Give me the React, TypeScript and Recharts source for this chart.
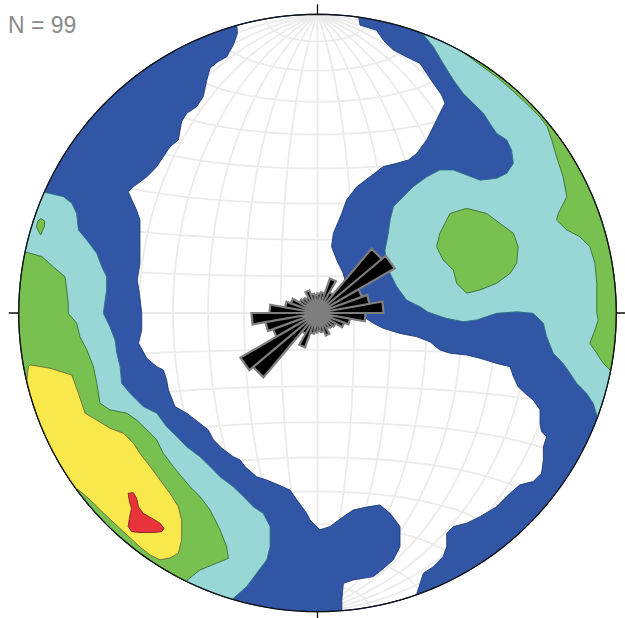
import React from 'react';
import { ScatterChart, Scatter, XAxis, YAxis } from 'recharts';

type Pt = [number, number];
type XY = { x: number; y: number };

// ---------- DATA (net coordinates, primitive circle radius ≈ 99.6, north up) ----------
const NET_RADIUS = 99.6;
const sampleCount = 99;

// Rose diagram (bidirectional), 10° azimuth bins, petal length in net units
const roseBinStart = [0, 10, 20, 30, 40, 50, 60, 70, 80, 90, 100, 110, 120, 130, 140, 150, 160, 170];
const roseBinLength = [6.5, 7.0, 12.2, 8.0, 28.0, 29.7, 15.8, 17.6, 22.0, 16.0, 11.0, 9.5, 7.0, 6.5, 6.0, 8.0, 6.5, 6.0];
const ROSE_BIN_WIDTH = 10;

// Lowest contour (uncoloured zone) boundary: west edge top->bottom rim, east edge bottom->top rim
const whiteWestEdge: Pt[] = [
  [-26.9, 96.0], [-26.7, 93.2], [-28.1, 89.3], [-30.3, 85.4], [-33.2, 83.8], [-35.8, 81.7], [-36.9, 77.7],
  [-38.1, 72.1], [-40.3, 68.8], [-43.6, 66.6], [-45.3, 63.8], [-46.4, 57.7], [-49.2, 55.4], [-51.4, 52.1],
  [-53.6, 48.8], [-56.9, 45.4], [-61.4, 42.1], [-63.1, 40.4], [-61.9, 37.7], [-60.3, 34.3], [-59.2, 31.0],
  [-59.2, 25.4], [-59.2, 16.6], [-60.1, 11.0], [-59.4, 6.6], [-58.6, -0.1], [-58.6, -5.7], [-59.7, -10.1],
  [-56.9, -15.1], [-53.6, -17.9], [-51.4, -19.0], [-50.3, -22.3], [-49.7, -25.7], [-47.5, -31.2], [-43.6, -33.4],
  [-39.2, -36.8], [-36.4, -39.0], [-34.7, -42.3], [-31.9, -45.1], [-28.1, -47.9], [-25.8, -49.0], [-24.2, -51.2],
  [-20.3, -54.6], [-16.9, -55.7], [-13.1, -57.3], [-9.2, -59.0], [-6.9, -62.3], [-3.6, -66.8], [-2.5, -69.0],
  [0.8, -72.3], [4.2, -71.2], [8.6, -67.9], [11.9, -65.7], [16.9, -64.6], [20.8, -64.0], [24.2, -66.8],
  [27.5, -71.2], [27.5, -77.9], [25.3, -82.3], [21.4, -85.7], [18.6, -87.9], [11.9, -89.0], [8.6, -90.1],
  [8.1, -95.7], [8.1, -99.3],
];
const whiteEastEdge: Pt[] = [
  [33.1, -93.6], [35.3, -86.8], [38.6, -84.6], [41.9, -81.2], [43.1, -77.9], [43.1, -73.4], [45.3, -71.2],
  [49.7, -70.1], [54.2, -67.9], [59.7, -64.6], [64.2, -60.1], [67.5, -57.3], [71.9, -56.2], [74.7, -53.4],
  [75.3, -49.0], [75.3, -44.6], [76.4, -41.2], [74.7, -39.6], [74.2, -36.8], [74.2, -32.3], [71.9, -29.0],
  [69.2, -26.8], [66.9, -24.6], [65.3, -21.2], [64.2, -17.9], [59.7, -16.8], [54.2, -15.1], [49.7, -14.0],
  [44.2, -13.4], [40.8, -12.3], [37.5, -9.6], [33.1, -7.9], [27.5, -6.8], [21.9, -5.1], [18.6, -3.4],
  [15.3, -1.2], [12.8, 1.7], [10.8, 5.0], [9.7, 8.8], [8.6, 13.2], [6.4, 17.7], [4.7, 22.1], [5.3, 26.6],
  [8.1, 33.2], [9.7, 37.7], [13.1, 42.1], [17.5, 45.4], [21.9, 48.8], [26.4, 49.9], [30.3, 51.0], [33.1, 53.2],
  [36.4, 57.7], [38.6, 62.1], [40.8, 66.6], [42.5, 69.9], [41.4, 72.7], [38.6, 76.6], [36.4, 79.9], [34.2, 83.2],
  [29.7, 85.4], [25.3, 87.7], [21.9, 91.0], [19.7, 94.3], [14.2, 96.0], [13.7, 98.7],
];

// Second contour level (west), closed along the rim
const cyanWestEdge: Pt[] = [
  [-91.1, 40.3], [-84.7, 38.8], [-81.9, 36.6], [-80.3, 33.2], [-79.7, 27.7], [-76.9, 24.3], [-73.6, 19.9],
  [-71.9, 15.4], [-70.3, 12.1], [-70.3, 7.7], [-70.8, 4.3], [-71.4, -0.1], [-69.2, -4.6], [-67.5, -9.0],
  [-66.9, -13.4], [-65.8, -17.9], [-65.3, -23.4], [-62.5, -26.8], [-60.3, -29.0], [-58.1, -31.2], [-53.6, -33.4],
  [-50.3, -37.9], [-46.9, -41.2], [-43.6, -44.6], [-39.2, -47.9], [-35.8, -51.2], [-32.5, -54.6], [-28.1, -57.9],
  [-24.7, -61.2], [-21.4, -64.6], [-18.1, -66.8], [-15.8, -71.2], [-15.8, -77.9], [-16.9, -82.3], [-20.3, -86.8],
  [-23.6, -91.2], [-28.1, -95.2],
];
// Third level (west)
const greenWestEdge: Pt[] = [
  [-97.5, 20.4], [-91.9, 18.8], [-88.1, 15.4], [-84.2, 12.1], [-83.6, 7.7], [-83.1, 3.2], [-83.1, -0.1],
  [-80.3, -3.4], [-79.2, -7.9], [-76.9, -12.3], [-74.7, -17.9], [-73.6, -23.4], [-72.5, -30.1], [-69.2, -32.3],
  [-63.6, -33.4], [-60.3, -35.7], [-56.9, -39.0], [-53.6, -42.3], [-51.4, -46.8], [-48.1, -51.2], [-45.3, -54.6],
  [-42.5, -57.9], [-39.2, -61.2], [-35.8, -65.7], [-32.5, -72.3], [-30.3, -77.9], [-29.7, -81.8], [-33.6, -83.4],
  [-39.2, -85.7], [-43.6, -89.2],
];
const greenWestSpot: Pt[] = [[-93.2, 30.7], [-92.2, 31.5], [-91.0, 30.7], [-91.0, 29.0], [-92.3, 26.0], [-93.7, 28.7]];
// Fourth level
const yellowWestEdge: Pt[] = [
  [-96.9, -22.3], [-96.4, -17.9], [-95.8, -17.3], [-89.2, -18.4], [-81.9, -20.7], [-79.7, -26.8], [-77.5, -33.4],
  [-73.6, -35.7], [-69.2, -38.4], [-64.7, -40.1], [-61.4, -43.4], [-59.2, -46.8], [-55.8, -51.2], [-52.5, -55.7],
  [-49.2, -60.1], [-46.4, -64.6], [-45.3, -69.0], [-45.3, -75.7], [-46.4, -80.1], [-49.2, -81.7], [-52.5, -82.3],
  [-55.8, -80.7], [-59.2, -78.0], [-63.2, -74.3], [-67.5, -70.3], [-71.8, -66.3], [-75.8, -62.3], [-80.0, -58.7],
];
// Maximum
const redCore: Pt[] = [
  [-63.1, -60.1], [-61.4, -59.9], [-60.3, -61.8], [-59.7, -64.6], [-58.1, -66.8], [-55.3, -68.4], [-52.5, -70.1],
  [-51.2, -71.8], [-51.9, -72.9], [-54.7, -73.2], [-59.2, -73.2], [-62.0, -72.9], [-63.1, -71.2], [-62.7, -68.4],
  [-62.0, -65.1], [-62.7, -62.9],
];
// East side
const cyanEastEdge: Pt[] = [
  [35.0, 93.2], [38.6, 88.8], [41.9, 83.2], [45.3, 77.7], [48.6, 73.2], [51.9, 69.9], [55.3, 66.6], [57.5, 63.2],
  [59.7, 59.9], [63.1, 57.7], [64.7, 54.3], [65.3, 49.9], [63.1, 46.6], [59.7, 44.9], [54.2, 44.3], [49.7, 46.0],
  [45.3, 47.7], [40.8, 47.7], [36.4, 45.4], [31.9, 42.1], [28.6, 38.8], [25.3, 35.4], [24.2, 31.0], [23.6, 26.6],
  [22.5, 21.0], [22.8, 17.0], [24.2, 13.2], [26.4, 8.8], [29.7, 4.3], [34.2, 2.1], [36.8, 0.3], [39.7, -0.7],
  [43.1, -1.8], [48.6, -2.9], [53.1, -2.3], [56.4, -1.2], [59.7, -0.1], [66.4, 0.4], [71.9, -0.1], [75.3, -3.4],
  [76.4, -7.9], [78.6, -13.4], [81.9, -16.8], [84.2, -20.1], [86.4, -23.4], [89.7, -26.8], [91.9, -30.1],
  [93.3, -34.6],
];
const greenEastEdge: Pt[] = [
  [49.2, 86.5], [54.2, 82.7], [59.8, 78.7], [65.2, 74.0], [70.2, 69.3], [74.2, 65.3], [76.5, 62.3], [78.1, 57.7],
  [79.7, 52.1], [81.9, 45.4], [83.1, 38.8], [80.3, 33.2], [79.7, 31.0], [83.1, 27.7], [87.5, 25.4], [90.8, 22.1],
  [92.5, 16.6], [93.1, 9.9], [93.1, -0.1], [93.6, -2.3], [92.5, -5.7], [90.8, -10.1], [93.1, -13.4], [95.3, -16.8],
  [97.8, -19.3],
];
const greenEastCore: Pt[] = [
  [44.2, 33.2], [49.7, 34.9], [56.4, 33.2], [60.8, 29.9], [65.3, 26.6], [66.9, 22.1], [66.4, 16.6], [64.2, 13.2],
  [59.7, 9.9], [54.2, 7.7], [49.7, 6.6], [46.4, 9.9], [45.3, 14.3], [41.9, 17.7], [39.7, 22.1], [40.8, 26.6],
  [42.5, 29.9],
];

// ---------- STYLE ----------
const C = {
  blue: '#3156a6', blueLine: '#1d3a78',
  cyan: '#98d7d5', cyanLine: '#2c7088',
  green: '#78c04f', greenLine: '#3a6e33',
  yellow: '#f9e84b', yellowLine: '#6b6a3a',
  red: '#e8333a', redLine: '#7d1f22',
  grid: '#ebebeb', rim: '#111111', petal: '#000000', petalLine: '#7e7e7e', label: '#8a8a8a',
};

// ---------- GEOMETRY HELPERS (net furniture) ----------
function lastOf(a: Pt[]): Pt { return a[a.length - 1]; }
function angleOf(p: Pt) { return (Math.atan2(p[1], p[0]) * 180) / Math.PI; }
function rimArc(from: Pt, to: Pt, dir: number): Pt[] {
  const a0 = angleOf(from);
  let a1 = angleOf(to);
  if (dir > 0) { while (a1 <= a0) a1 += 360; } else { while (a1 >= a0) a1 -= 360; }
  const n = Math.max(2, Math.ceil(Math.abs(a1 - a0) / 2));
  const out: Pt[] = [];
  for (let i = 0; i <= n; i++) {
    const a = ((a0 + ((a1 - a0) * i) / n) * Math.PI) / 180;
    out.push([NET_RADIUS * Math.cos(a), NET_RADIUS * Math.sin(a)]);
  }
  return out;
}
const closeOnRim = (edge: Pt[], dir: number): Pt[] => [...edge, ...rimArc(lastOf(edge), edge[0], dir)];

const RIM_N = 180;
const rimCircle: Pt[] = Array.from({ length: RIM_N }, (_, i) => {
  const a = (i * 2 * Math.PI) / RIM_N;
  return [NET_RADIUS * Math.cos(a), NET_RADIUS * Math.sin(a)] as Pt;
});

const whiteZone: Pt[] = [
  ...whiteWestEdge,
  ...rimArc(lastOf(whiteWestEdge), whiteEastEdge[0], 1),
  ...whiteEastEdge,
  ...rimArc(lastOf(whiteEastEdge), whiteWestEdge[0], 1),
];

// Schmidt (equal-area) net graticule, 10° spacing
function netPoint(latDeg: number, lonDeg: number): Pt {
  const f = (latDeg * Math.PI) / 180;
  const l = (lonDeg * Math.PI) / 180;
  const k = Math.sqrt(2 / (1 + Math.cos(f) * Math.cos(l)));
  return [(NET_RADIUS / Math.SQRT2) * k * Math.cos(f) * Math.sin(l), (NET_RADIUS / Math.SQRT2) * k * Math.sin(f)];
}
const GRID_N = 61;
const gridPts: Pt[] = [];
for (let lon = -80; lon <= 80; lon += 10) for (let i = 0; i < GRID_N; i++) gridPts.push(netPoint(-90 + i * 3, lon));
for (let lat = -80; lat <= 80; lat += 10) for (let i = 0; i < GRID_N; i++) gridPts.push(netPoint(lat, -90 + i * 3));

// Rose petals (polar -> net coordinates)
const rosePts: Pt[] = [];
roseBinStart.forEach((b, i) => {
  const L = roseBinLength[i];
  [0, 180].forEach((off) => {
    const a0 = ((b + off) * Math.PI) / 180;
    const a1 = ((b + off + ROSE_BIN_WIDTH) * Math.PI) / 180;
    rosePts.push([0, 0], [L * Math.sin(a0), L * Math.cos(a0)], [L * Math.sin(a1), L * Math.cos(a1)]);
  });
});

const toXY = (pts: Pt[]) => pts.map(([x, y]) => ({ x, y }));

// ---------- RENDERERS ----------
const dOf = (pts: XY[], closed: boolean) =>
  pts.length
    ? pts.map((p, i) => (i ? 'L' : 'M') + p.x.toFixed(2) + ',' + p.y.toFixed(2)).join('') + (closed ? 'Z' : '')
    : '';

const regionLine = (fill: string, stroke: string, cuts: number[] = [], evenOdd = false) => (props: any) => {
  const pts: XY[] = props.points || [];
  const bounds = [0, ...cuts, pts.length];
  let d = '';
  for (let k = 0; k < bounds.length - 1; k++) d += dOf(pts.slice(bounds[k], bounds[k + 1]), true);
  return (
    <path d={d} fill={fill} fillRule={evenOdd ? 'evenodd' : 'nonzero'} stroke={stroke} strokeWidth={0.9} strokeLinejoin="round" />
  );
};

const chunkLine = (size: number, closed: boolean, style: any) => (props: any) => {
  const pts: XY[] = props.points || [];
  let d = '';
  for (let k = 0; k < pts.length; k += size) d += dOf(pts.slice(k, k + size), closed);
  return <path d={d} {...style} />;
};

const rimLine = (props: any) => {
  const pts: XY[] = props.points || [];
  if (!pts.length) return <g />;
  const xs = pts.map((p) => p.x);
  const ys = pts.map((p) => p.y);
  const cx = (Math.min(...xs) + Math.max(...xs)) / 2;
  const cy = (Math.min(...ys) + Math.max(...ys)) / 2;
  const rx = (Math.max(...xs) - Math.min(...xs)) / 2;
  const ry = (Math.max(...ys) - Math.min(...ys)) / 2;
  const t = 10;
  const ticks = `M${cx},${cy - ry}V${cy - ry - t}M${cx},${cy + ry}V${cy + ry + t}M${cx - rx},${cy}H${cx - rx - t}M${cx + rx},${cy}H${cx + rx + t}`;
  return (
    <g>
      <path d={dOf(pts, true)} fill="none" stroke={C.rim} strokeWidth={1.3} />
      <path d={ticks} fill="none" stroke={C.rim} strokeWidth={1.3} />
    </g>
  );
};

const noDot = () => <g />;

export default function App() {
  const common = { isAnimationActive: false, shape: noDot, lineType: 'joint' as const, legendType: 'none' as const };
  return (
    <div style={{ position: 'absolute', left: 0, top: 0, width: 625, height: 618, background: '#fff' }}>
      <ScatterChart width={625} height={618} margin={{ top: 14, right: 8, bottom: 6, left: 18 }}>
        <XAxis type="number" dataKey="x" domain={[-99.85, 99.85]} hide />
        <YAxis type="number" dataKey="y" domain={[-99.7, 99.7]} hide />
        <Scatter {...common} data={toXY(gridPts)} line={chunkLine(GRID_N, false, { fill: 'none', stroke: C.grid, strokeWidth: 1.8 })} />
        <Scatter {...common} data={toXY([...rimCircle, ...whiteZone])} line={regionLine(C.blue, C.blueLine, [RIM_N], true)} />
        <Scatter {...common} data={toXY(closeOnRim(cyanWestEdge, -1))} line={regionLine(C.cyan, C.cyanLine)} />
        <Scatter {...common} data={toXY(closeOnRim(cyanEastEdge, 1))} line={regionLine(C.cyan, C.cyanLine)} />
        <Scatter {...common} data={toXY(closeOnRim(greenWestEdge, -1))} line={regionLine(C.green, C.greenLine)} />
        <Scatter {...common} data={toXY(greenWestSpot)} line={regionLine(C.green, C.greenLine)} />
        <Scatter {...common} data={toXY(closeOnRim(greenEastEdge, 1))} line={regionLine(C.green, C.greenLine)} />
        <Scatter {...common} data={toXY(greenEastCore)} line={regionLine(C.green, C.greenLine)} />
        <Scatter {...common} data={toXY(closeOnRim(yellowWestEdge, -1))} line={regionLine(C.yellow, C.yellowLine)} />
        <Scatter {...common} data={toXY(redCore)} line={regionLine(C.red, C.redLine)} />
        <Scatter {...common} data={toXY(rimCircle)} line={rimLine} />
        <Scatter {...common} data={toXY(rosePts)} line={chunkLine(3, true, { fill: C.petal, stroke: C.petalLine, strokeWidth: 2.2, strokeLinejoin: 'miter' })} />
      </ScatterChart>
      <svg style={{ position: 'absolute', left: 0, top: 0 }} width={120} height={40}>
        <text x={8} y={33} fontSize={23} fill={C.label} fontFamily="'Liberation Sans', Arial, sans-serif">
          {`N = ${sampleCount}`}
        </text>
      </svg>
    </div>
  );
}
